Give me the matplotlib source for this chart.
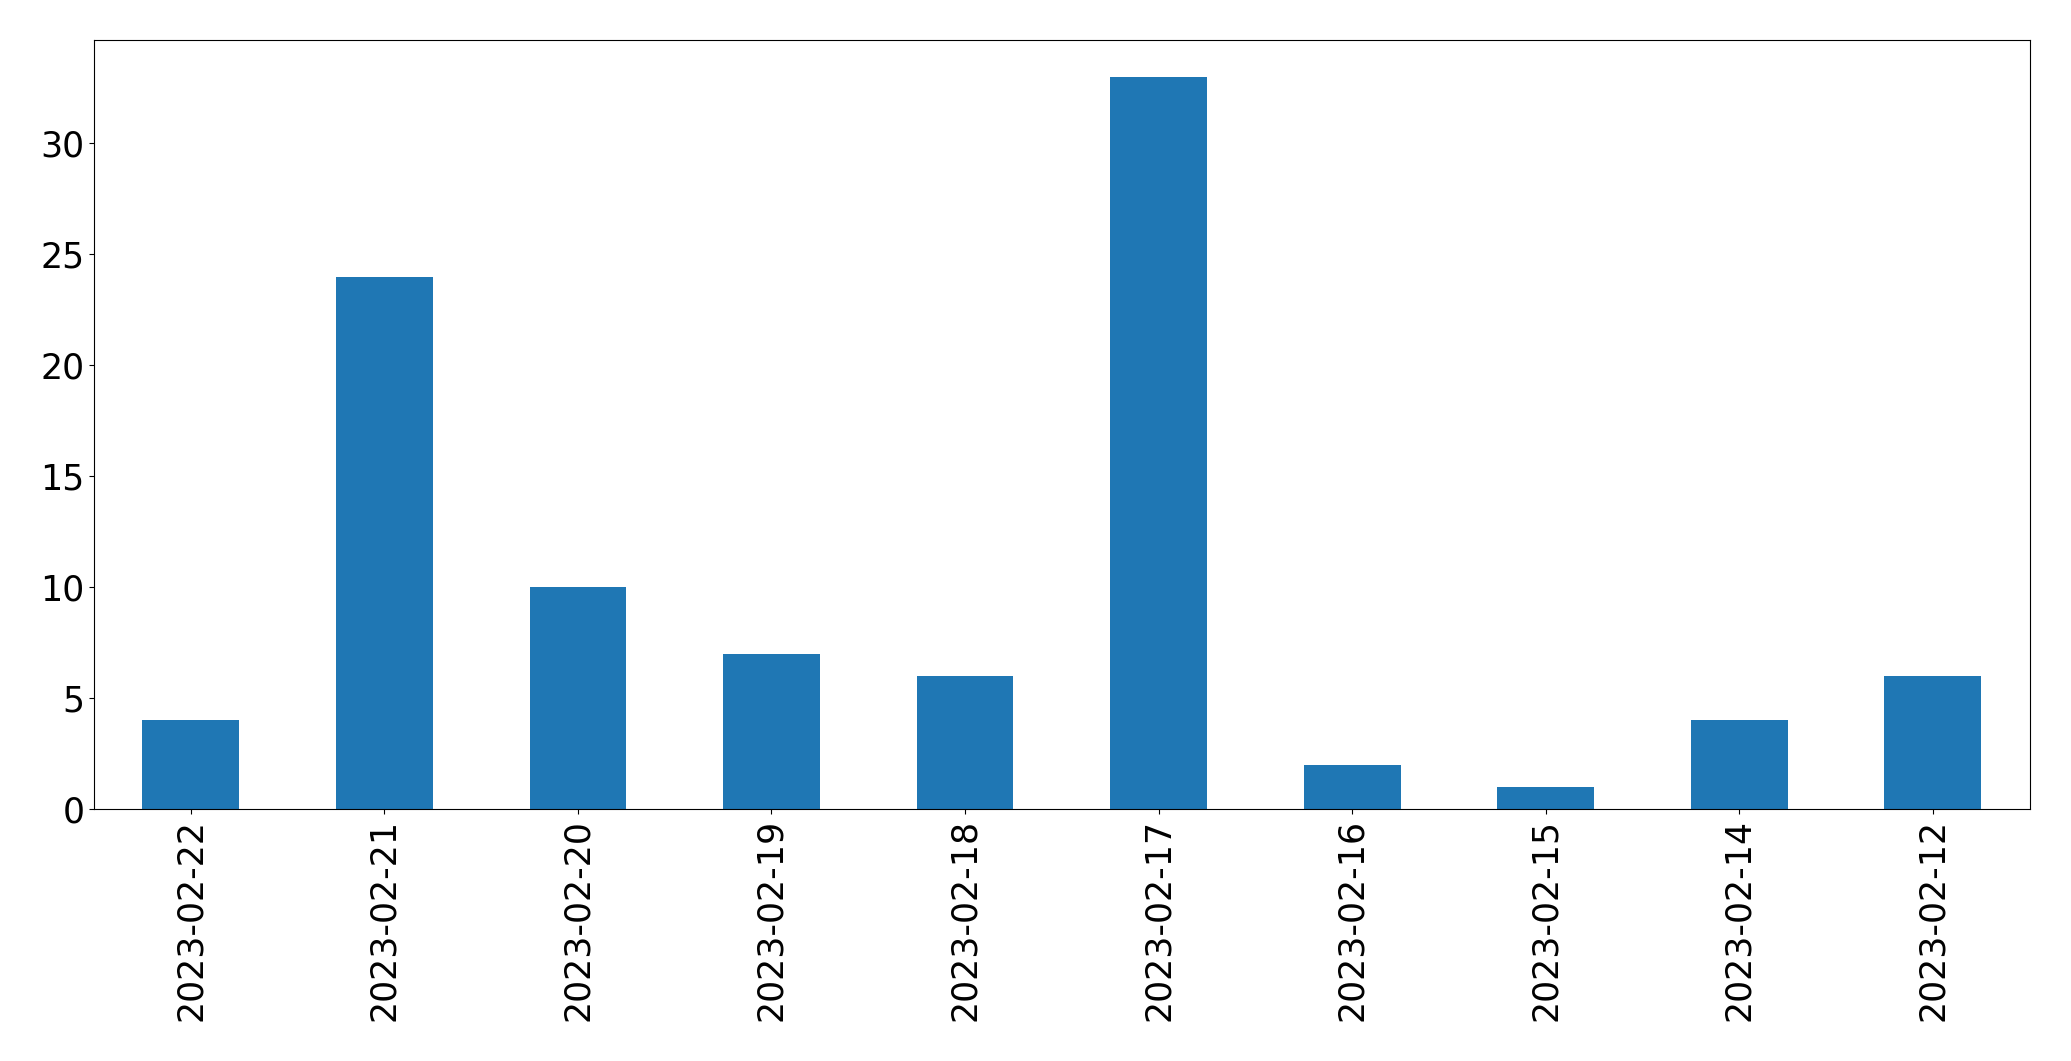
import numpy as np
import pandas as pd
import matplotlib
matplotlib.use('Agg')
import matplotlib.pyplot as plt

dates = ['2023-02-22', '2023-02-21', '2023-02-20', '2023-02-19', '2023-02-18',
         '2023-02-17', '2023-02-16', '2023-02-15', '2023-02-14', '2023-02-12']
counts = [4, 24, 10, 7, 6, 33, 2, 1, 4, 6]

s = pd.Series(counts, index=dates)

fig = plt.figure(figsize=(20.71, 10.61), dpi=100)
ax = fig.add_subplot(111)
s.plot(kind='bar', ax=ax, color='#1f77b4', fontsize=25)
plt.subplots_adjust(left=0.0454, right=0.980, top=0.962, bottom=0.2375)
fig.savefig('out.png', dpi=100)
